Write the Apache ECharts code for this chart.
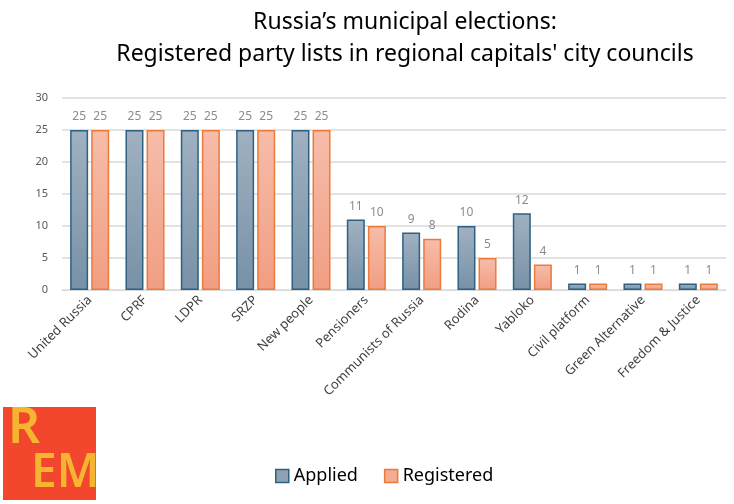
<!DOCTYPE html>
<html>
<head>
<meta charset="utf-8">
<script src="https://cdn.jsdelivr.net/npm/echarts@6/dist/echarts.min.js"></script>
<style>html,body{margin:0;padding:0;background:#fff;}#c{width:734px;height:504px;}</style>
</head>
<body>
<div id="c"></div>
<script>
const categories = ["United Russia","CPRF","LDPR","SRZP","New people","Pensioners","Communists of Russia","Rodina","Yabloko","Civil platform","Green Alternative","Freedom & Justice"];
const applied = [25,25,25,25,25,11,9,10,12,1,1,1];
const registered = [25,25,25,25,25,10,8,5,4,1,1,1];
const yTicks = [0,5,10,15,20,25,30];

const chart = echarts.init(document.getElementById('c'), null, {renderer:'canvas'});
const font = "'Noto Sans', 'Open Sans', sans-serif";
function grad(top, bottom){
  return new echarts.graphic.LinearGradient(0,0,0,1,[{offset:0,color:top},{offset:1,color:bottom}]);
}
chart.setOption({
  animation:false,
  backgroundColor:'#fff',
  title:{
    text:"Russia’s municipal elections:\nRegistered party lists in regional capitals' city councils",
    left:400, top:1, textAlign:'center',
    textStyle:{fontFamily:font, fontSize:23, fontWeight:'normal', color:'#000', lineHeight:32}
  },
  legend:{
    bottom:14, left:270, itemWidth:13, itemHeight:13, itemGap:26,
    textStyle:{fontFamily:font, fontSize:18, color:'#000'},
    data:[
      {name:'Applied', icon:'rect', itemStyle:{color:'#8ea2b4', borderColor:'#2c6184', borderWidth:1.5}},
      {name:'Registered', icon:'rect', itemStyle:{color:'#f4ac94', borderColor:'#ee7a3a', borderWidth:1.5}}
    ]
  },
  grid:{left:62, right:8, top:98, bottom:214},
  xAxis:{
    type:'category', data:categories,
    axisLine:{lineStyle:{color:'#d9d9d9'}},
    axisTick:{show:false},
    axisLabel:{rotate:45, interval:0, fontFamily:font, fontSize:13, color:'#404040', margin:8}
  },
  yAxis:{
    type:'value', min:0, max:30, interval:5,
    axisLabel:{fontFamily:font, fontSize:11, color:'#595959', margin:14},
    axisLine:{show:false}, axisTick:{show:false},
    splitLine:{lineStyle:{color:'#d9d9d9', width:1.5}}
  },
  series:[
    {name:'Applied', type:'bar', data:applied, barWidth:18, barGap:'17%',
     itemStyle:{color:grad('#a0b1c1','#7891a6'), borderColor:'#2c6184', borderWidth:1.5},
     label:{show:true, position:'top', distance:7, fontFamily:font, fontSize:12, color:'#8c8c8c'}},
    {name:'Registered', type:'bar', data:registered, barWidth:18,
     itemStyle:{color:grad('#f6bdaa','#f19e82'), borderColor:'#ee7a3a', borderWidth:1.5},
     label:{show:true, position:'top', distance:7, fontFamily:font, fontSize:12, color:'#8c8c8c'}}
  ],
  graphic:[
    {type:'rect', left:3, top:407, shape:{width:93, height:93}, style:{fill:'#f2472c'}},
    {type:'text', left:8, top:404, style:{text:'R', font:"600 50px 'Noto Sans', sans-serif", fill:'#f6b531'}},
    {type:'text', left:31, top:451, style:{text:'EM', font:"600 46px 'Noto Sans', sans-serif", fill:'#f6b531'}}
  ]
});
</script>
</body>
</html>
